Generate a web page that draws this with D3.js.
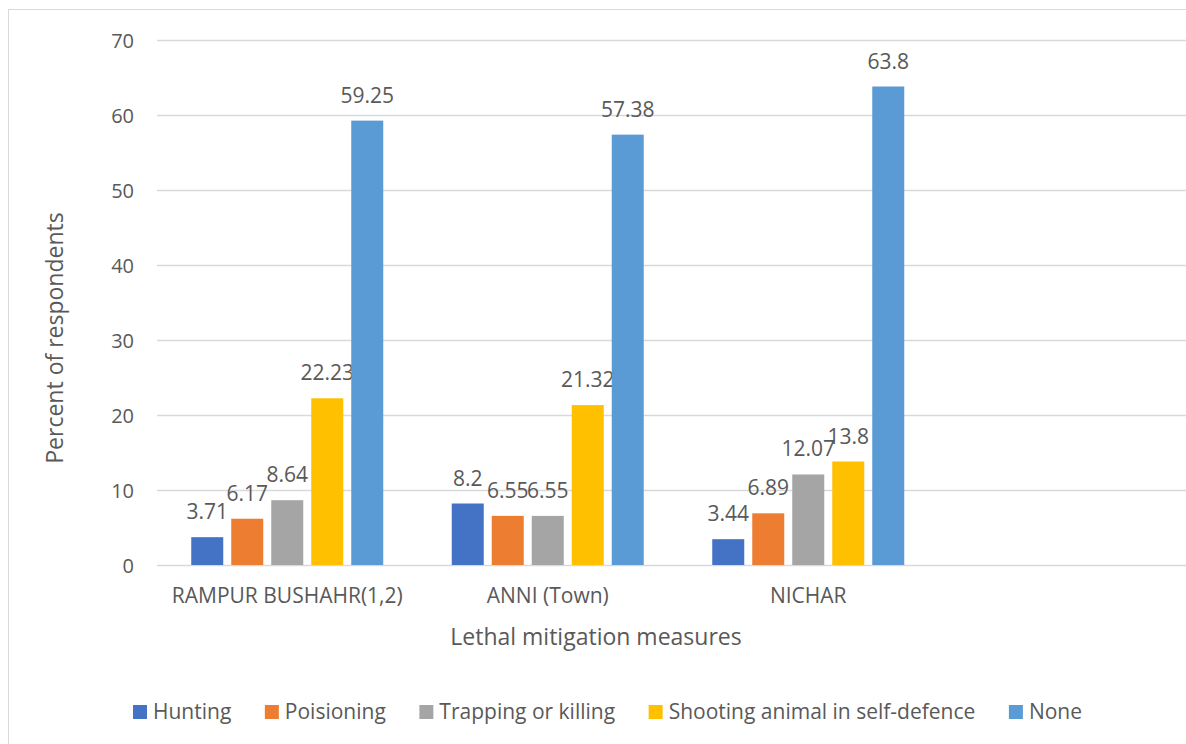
<!DOCTYPE html>
<html>
<head>
<meta charset="utf-8">
<script src="https://cdn.jsdelivr.net/npm/d3@7"></script>
<style>
  html, body { margin: 0; padding: 0; background: #fff; }
  svg text { font-family: "Open Sans", Lato, sans-serif; fill: #595959; }
</style>
</head>
<body>
<svg id="chart" width="1186" height="744"></svg>
<script>
// Locations surveyed (the fourth slot is left empty on the axis)
const categories = ["RAMPUR BUSHAHR(1,2)", "ANNI (Town)", "NICHAR", ""];
const seriesNames = ["Hunting", "Poisioning", "Trapping or killing", "Shooting animal in self-defence", "None"];
const seriesColors = ["#4472C4", "#ED7D31", "#A5A5A5", "#FFC000", "#5B9BD5"];

// Percent of respondents, one array per measure, in category order
const hunting   = [3.71, 8.2, 3.44];
const poisoning = [6.17, 6.55, 6.89];
const trapping  = [8.64, 6.55, 12.07];
const shooting  = [22.23, 21.32, 13.8];
const none      = [59.25, 57.38, 63.8];
const seriesValues = [hunting, poisoning, trapping, shooting, none];

const yTicks = [0, 10, 20, 30, 40, 50, 60, 70];

const svg = d3.select("#chart");
const W = 1186, H = 744;
const plot = { left: 157, right: 1199, top: 40, bottom: 565 };

// outer frame of the chart area
svg.append("rect")
  .attr("x", 8.5).attr("y", 9.5)
  .attr("width", 1300).attr("height", 800)
  .attr("fill", "none").attr("stroke", "#D9D9D9").attr("stroke-width", 1);

const x0 = d3.scaleBand().domain(categories).range([plot.left, plot.right]).paddingInner(0).paddingOuter(0);
const y = d3.scaleLinear().domain([0, 70]).range([plot.bottom, plot.top]);

// bars within each band: 5 slots, bar width 80% of slot
const groupW = 192;
const x1 = d3.scaleBand().domain(d3.range(seriesNames.length))
  .range([0, groupW]).paddingInner(0.2).paddingOuter(0);

// gridlines
svg.append("g")
  .selectAll("line").data(yTicks).join("line")
  .attr("x1", plot.left).attr("x2", W)
  .attr("y1", d => Math.round(y(d)) + 0.5).attr("y2", d => Math.round(y(d)) + 0.5)
  .attr("stroke", "#D9D9D9").attr("stroke-width", 1.5);

// y tick labels
const yAxis = d3.axisLeft(y).tickValues(yTicks).tickSize(0).tickPadding(0);
const gy = svg.append("g").attr("transform", `translate(134,0)`).call(yAxis);
gy.select(".domain").remove();
gy.selectAll("text").attr("font-size", 20).style("font-family", "'Open Sans'").attr("fill", "#595959").attr("dy", "0.36em");

// x category labels
const xAxis = d3.axisBottom(x0).tickSize(0).tickPadding(0);
const gx = svg.append("g").attr("transform", `translate(0,${plot.bottom})`).call(xAxis);
gx.select(".domain").remove();
gx.selectAll("text").attr("font-size", 21).style("font-family", "'Open Sans'").attr("fill", "#595959").attr("dy", 0).attr("y", 38);

// bars
const groups = svg.append("g").selectAll("g")
  .data(categories.slice(0, 3)).join("g")
  .attr("transform", d => `translate(${x0(d) + (x0.bandwidth() - groupW) / 2},0)`);

groups.each(function(cat, ci) {
  const g = d3.select(this);
  seriesValues.forEach((vals, si) => {
    const v = vals[ci];
    g.append("rect")
      .attr("x", x1(si)).attr("width", x1.bandwidth())
      .attr("y", y(v)).attr("height", y(0) - y(v))
      .attr("fill", seriesColors[si]);
    g.append("text")
      .attr("x", x1(si) + x1.bandwidth() / 2)
      .attr("y", y(v) - 18)
      .attr("text-anchor", "middle")
      .attr("font-size", 21)
      .text(v);
  });
});

// axis titles
svg.append("text")
  .attr("transform", `translate(63,338) rotate(-90)`)
  .attr("text-anchor", "middle").attr("font-size", 23)
  .text("Percent of respondents");
svg.append("text")
  .attr("x", 596).attr("y", 645)
  .attr("text-anchor", "middle").attr("font-size", 23)
  .text("Lethal mitigation measures");

// legend, spread between fixed left and right ends
const legendLeft = 133, legendRight = 1082;
const legend = svg.append("g");
const items = legend.selectAll("g").data(seriesNames).join("g");
items.append("rect").attr("width", 14).attr("height", 14).attr("y", 705)
  .attr("fill", (d, i) => seriesColors[i]);
items.append("text").attr("x", 20).attr("y", 719).attr("font-size", 21).text(d => d);
let widths = [];
items.each(function() { widths.push(20 + d3.select(this).select("text").node().getComputedTextLength()); });
const gap = (legendRight - legendLeft - d3.sum(widths)) / (widths.length - 1);
let cx = legendLeft;
items.each(function(d, i) {
  d3.select(this).attr("transform", `translate(${cx},0)`);
  cx += widths[i] + gap;
});
</script>
</body>
</html>
